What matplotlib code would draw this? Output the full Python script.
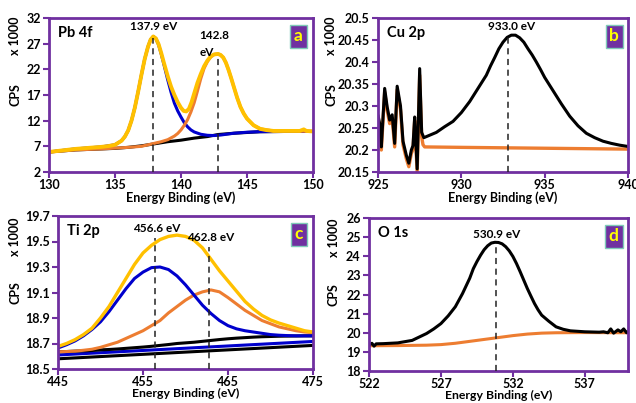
import matplotlib
matplotlib.use("Agg")
import matplotlib.pyplot as plt

plt.rcParams["font.family"] = ["Lato", "DejaVu Sans"]
plt.rcParams["font.weight"] = "bold"

PURPLE = "#7030A0"
GOLD = "#FFC000"
ORANGE = "#ED7D31"
BLUE = "#0000CC"

# ---- panel a: Pb 4f ----
pb_env_x = [130, 131, 132, 133, 134, 134.5, 135, 135.5, 135.75, 136, 136.25, 136.5, 136.75, 137,
            137.25, 137.5, 137.7, 137.9, 138.1, 138.3, 138.5, 138.7, 139, 139.25, 139.5, 139.75,
            140, 140.2, 140.4, 140.6, 140.8, 141, 141.25, 141.5, 141.75, 142, 142.25, 142.5, 142.8,
            143, 143.2, 143.4, 143.6, 143.8, 144, 144.25, 144.5, 144.75, 145, 145.5, 146, 146.5,
            147, 148, 149, 149.3, 149.5, 150]
pb_env_y = [5.9, 6.2, 6.5, 6.7, 6.9, 7.05, 7.3, 8.1, 8.9, 10.1, 12.0, 14.5, 17.6, 20.9,
            24.0, 26.4, 27.8, 28.4, 28.0, 26.9, 25.2, 23.3, 20.6, 18.6, 17.0, 15.6,
            14.5, 13.9, 13.8, 14.3, 15.6, 17.3, 19.4, 21.1, 22.6, 23.7, 24.5, 24.9, 25.0,
            24.8, 24.3, 23.3, 21.9, 20.3, 18.6, 16.5, 14.7, 13.4, 12.4, 11.1, 10.4, 10.15,
            10.0, 10.0, 10.0, 10.3, 10.0, 9.9]
pb_blue_x = [130, 132, 134, 135, 135.5, 135.75, 136, 136.25, 136.5, 136.75, 137, 137.25, 137.5,
             137.7, 137.9, 138.1, 138.3, 138.5, 138.7, 139, 139.25, 139.5, 139.75, 140, 140.25,
             140.5, 140.75, 141, 141.5, 142, 142.5, 143, 144, 145, 146, 148, 150]
pb_blue_y = [5.9, 6.5, 6.9, 7.3, 8.1, 8.9, 10.1, 12.0, 14.5, 17.6, 20.9, 24.0, 26.4,
             27.8, 28.4, 28.0, 26.8, 25.0, 23.0, 19.9, 17.5, 15.4, 13.9, 12.7, 11.6,
             10.8, 10.2, 9.8, 9.35, 9.15, 9.1, 9.2, 9.55, 9.75, 9.85, 9.9, 9.9]
pb_orange_x = [130, 132, 134, 136, 137, 137.5, 138, 138.5, 139, 139.5, 139.75, 140, 140.25, 140.5,
               140.75, 141, 141.25, 141.5, 141.75, 142, 142.25, 142.5, 142.8, 143, 143.2, 143.4,
               143.6, 143.8, 144, 144.25, 144.5, 144.75, 145, 145.5, 146, 147, 148, 150]
pb_orange_y = [5.9, 6.3, 6.5, 6.8, 7.0, 7.3, 7.6, 7.9, 8.3, 9.0, 9.5, 10.2, 11.1, 12.2,
               13.7, 15.5, 17.8, 20.2, 22.2, 23.5, 24.4, 24.9, 25.0, 24.8, 24.3, 23.3,
               21.9, 20.3, 18.6, 16.5, 14.7, 13.4, 12.4, 11.1, 10.4, 10.0, 10.0, 9.9]
pb_bg_x = [130, 131, 132, 134, 135, 136, 137, 137.9, 139, 140, 141, 142, 142.8, 144, 145, 146, 148, 150]
pb_bg_y = [5.9, 6.1, 6.3, 6.5, 6.6, 6.8, 7.1, 7.45, 7.9, 8.2, 8.6, 8.9, 9.3, 9.55, 9.7, 9.85, 9.9, 9.9]

# ---- panel b: Cu 2p ----
cu_x = [925.0, 925.1, 925.2, 925.4, 925.55, 925.7, 925.85, 926.0, 926.15, 926.35, 926.5, 926.7,
        926.85, 927.0, 927.1, 927.2, 927.35, 927.5, 927.62, 927.75, 928, 928.5, 929, 929.5, 930,
        930.5, 931, 931.5, 931.75, 932, 932.25, 932.5, 932.75, 933, 933.25, 933.5, 933.75, 934,
        934.25, 934.5, 934.75, 935, 935.5, 936, 936.5, 937, 937.5, 938, 938.5, 939, 939.5, 940]
cu_y = [20.279, 20.26, 20.207, 20.34, 20.298, 20.268, 20.28, 20.215, 20.345, 20.30, 20.22, 20.188,
        20.17, 20.20, 20.21, 20.275, 20.157, 20.385, 20.24, 20.228, 20.232, 20.24, 20.253, 20.265,
        20.285, 20.31, 20.34, 20.37, 20.391, 20.41, 20.43, 20.445, 20.456, 20.461, 20.461, 20.455,
        20.445, 20.43, 20.416, 20.40, 20.383, 20.365, 20.335, 20.305, 20.277, 20.255, 20.238,
        20.228, 20.22, 20.215, 20.211, 20.208]
cu_bg_x = [925.0, 925.1, 925.2, 925.4, 925.55, 925.7, 925.85, 926.0, 926.15, 926.35, 926.5, 926.7,
           926.85, 927.0, 927.1, 927.2, 927.35, 927.5, 927.62, 927.7, 927.8, 930, 935, 940]
cu_bg_y = [20.272, 20.252, 20.200, 20.332, 20.29, 20.26, 20.272, 20.207, 20.337, 20.292, 20.212,
           20.18, 20.162, 20.192, 20.202, 20.267, 20.15, 20.37, 20.23, 20.212, 20.207, 20.206,
           20.204, 20.202]

# ---- panel c: Ti 2p ----
ti_x = [445, 446, 447, 448, 449, 450, 451, 452, 453, 454, 455, 456, 457, 458, 459, 460,
        461, 462, 463, 464, 465, 466, 467, 468, 469, 470, 471, 472, 473, 474, 475]
ti_env_y = [18.677, 18.70, 18.73, 18.77, 18.82, 18.90, 18.99, 19.10, 19.21, 19.32, 19.41, 19.47,
            19.515, 19.54, 19.55, 19.54, 19.51, 19.45, 19.36, 19.27, 19.19, 19.11, 19.03, 18.97,
            18.92, 18.885, 18.86, 18.84, 18.82, 18.80, 18.79]
ti_blue_y = [18.665, 18.69, 18.72, 18.76, 18.81, 18.87, 18.95, 19.04, 19.13, 19.21, 19.26, 19.295,
             19.30, 19.28, 19.23, 19.16, 19.08, 19.00, 18.935, 18.88, 18.84, 18.815, 18.80, 18.79,
             18.78, 18.77, 18.765, 18.762, 18.76, 18.76, 18.76]
ti_orange_y = [18.635, 18.637, 18.64, 18.647, 18.655, 18.67, 18.69, 18.71, 18.74, 18.77, 18.80,
               18.84, 18.88, 18.94, 18.99, 19.04, 19.08, 19.105, 19.12, 19.105, 19.06, 19.01,
               18.96, 18.92, 18.88, 18.855, 18.83, 18.815, 18.80, 18.79, 18.785]
ti_bg_y = [18.635, 18.637, 18.64, 18.642, 18.645, 18.65, 18.653, 18.657, 18.662, 18.667, 18.672,
           18.678, 18.685, 18.692, 18.70, 18.705, 18.71, 18.717, 18.724, 18.731, 18.737, 18.742,
           18.746, 18.75, 18.753, 18.755, 18.757, 18.758, 18.759, 18.76, 18.76]
ti_line_x = [445, 475]
ti_line_blue = [18.61, 18.716]
ti_line_black = [18.58, 18.685]

# ---- panel d: O 1s ----
o_x = [522, 522.2, 522.35, 522.5, 523, 524, 525, 526, 526.5, 527, 527.5, 528, 528.5, 529, 529.25,
       529.5, 529.75, 530, 530.25, 530.5, 530.75, 531, 531.25, 531.5, 531.75, 532, 532.25, 532.5,
       532.75, 533, 533.25, 533.5, 533.75, 534, 534.5, 535, 535.5, 536, 537, 538, 538.3, 538.6,
       538.8, 539.0, 539.3, 539.5, 539.7, 539.9, 540]
o_y = [19.35, 19.45, 19.3, 19.42, 19.43, 19.47, 19.6, 19.96, 20.2, 20.48, 20.88, 21.36, 22.05,
       22.85, 23.35, 23.72, 24.05, 24.34, 24.55, 24.69, 24.73, 24.72, 24.65, 24.5, 24.28, 23.99,
       23.62, 23.2, 22.76, 22.32, 21.92, 21.53, 21.2, 20.92, 20.6, 20.31, 20.18, 20.1, 20.05,
       20.03, 20.05, 20.0, 20.2, 19.98, 20.15, 20.05, 20.2, 20.0, 20.05]
o_bg_x = [522, 524, 526, 527, 528, 529, 530, 531, 532, 533, 534, 535, 537, 540]
o_bg_y = [19.32, 19.33, 19.35, 19.38, 19.45, 19.55, 19.65, 19.75, 19.85, 19.93, 19.98, 20.0, 20.01, 20.0]

W, H = 636, 403
fig = plt.figure(figsize=(W / 100, H / 100), dpi=100)
FS = 9


def make_axes(l, t, r, b, fs_x=FS):
    ax = fig.add_axes([l / W, 1 - b / H, (r - l) / W, (b - t) / H])
    for s in ax.spines.values():
        s.set_color(PURPLE)
        s.set_linewidth(2)
    ax.tick_params(direction="out", color=PURPLE, width=1.5, length=4, labelsize=FS, pad=2)
    ax.tick_params(axis="x", pad=1)
    ax.set_xlabel("Energy Binding (eV)", fontsize=fs_x, fontweight="bold", labelpad=0)
    return ax


def line(ax, x, y, color, lw=2.2):
    ax.plot(x, y, color=color, lw=lw, solid_joinstyle="round", solid_capstyle="round")


def decorate(ax, name, badge, xt, yt, ylabs):
    ax.set_xticks(xt)
    ax.set_xticklabels([str(v) for v in xt], fontweight="bold")
    ax.set_yticks(yt)
    ax.set_yticklabels(ylabs, fontweight="bold")
    ax.set_xlim(xt[0], xt[-1])
    ax.set_ylim(yt[0], yt[-1])
    ax.text(0.035, 0.9, name, transform=ax.transAxes, fontsize=10.5, fontweight="bold", va="center")
    ax.text(0.945, 0.88, badge, transform=ax.transAxes, fontsize=12.5, fontweight="bold",
            color="#FFFF00", ha="center", va="center",
            bbox=dict(boxstyle="square,pad=0.22", fc=PURPLE, ec="#7FCBB8", lw=1))


def side_labels(x, y_top, y_cps):
    fig.text(x / W, 1 - y_top / H, "x 1000", rotation=90, fontsize=FS, fontweight="bold",
             ha="center", va="center")
    fig.text(x / W, 1 - y_cps / H, "CPS", rotation=90, fontsize=FS, fontweight="bold",
             ha="center", va="center")


def vdash(ax, x, y0, y1):
    ax.plot([x, x], [y0, y1], color="#222222", lw=1.1, ls=(0, (4, 3)), zorder=5)


# panel a
ax = make_axes(49, 18, 313, 172)
line(ax, pb_bg_x, pb_bg_y, "black")
line(ax, pb_blue_x, pb_blue_y, BLUE)
line(ax, pb_orange_x, pb_orange_y, ORANGE)
line(ax, pb_env_x, pb_env_y, GOLD, 2.8)
vdash(ax, 137.9, 2, 28.2)
vdash(ax, 142.8, 2, 24.8)
ax.text(137.9, 30.3, "137.9 eV", ha="center", va="center", fontsize=8.5, fontweight="bold")
ax.text(141.4, 27.0, "142.8\neV", ha="left", va="center", fontsize=8.5, fontweight="bold",
        linespacing=1.7)
decorate(ax, "Pb 4f", "a", [130, 135, 140, 145, 150], [2, 7, 12, 17, 22, 27, 32],
         ["2", "7", "12", "17", "22", "27", "32"])
side_labels(15, 36, 95)

# panel b
ax = make_axes(378, 18, 628, 172)
line(ax, cu_bg_x, cu_bg_y, ORANGE, 2.4)
line(ax, cu_x, cu_y, "black")
vdash(ax, 932.8, 20.15, 20.462)
ax.text(933.0, 20.48, "933.0 eV", ha="center", va="center", fontsize=8.5, fontweight="bold")
decorate(ax, "Cu 2p", "b", [925, 930, 935, 940],
         [20.15, 20.2, 20.25, 20.3, 20.35, 20.4, 20.45, 20.5],
         ["20.15", "20.2", "20.25", "20.3", "20.35", "20.4", "20.45", "20.5"])
side_labels(331, 36, 95)

# panel c
ax = make_axes(58, 216, 313, 369, fs_x=8.8)
line(ax, ti_line_x, ti_line_black, "black")
line(ax, ti_line_x, ti_line_blue, BLUE)
line(ax, ti_x, ti_bg_y, "black")
line(ax, ti_x, ti_orange_y, ORANGE)
line(ax, ti_x, ti_blue_y, BLUE)
line(ax, ti_x, ti_env_y, GOLD, 2.4)
vdash(ax, 456.4, 18.5, 19.53)
vdash(ax, 462.8, 18.5, 19.46)
ax.text(456.6, 19.6, "456.6 eV", ha="center", va="center", fontsize=8.5, fontweight="bold")
ax.text(463.0, 19.535, "462.8 eV", ha="center", va="center", fontsize=8.5, fontweight="bold")
decorate(ax, "Ti 2p", "c", [445, 455, 465, 475], [18.5, 18.7, 18.9, 19.1, 19.3, 19.5, 19.7],
         ["18.5", "18.7", "18.9", "19.1", "19.3", "19.5", "19.7"])
side_labels(15, 237, 293)

# panel d
ax = make_axes(369, 218, 628, 371, fs_x=8.8)
line(ax, o_bg_x, o_bg_y, ORANGE)
line(ax, o_x, o_y, "black")
vdash(ax, 530.8, 18, 24.7)
ax.text(530.9, 25.15, "530.9 eV", ha="center", va="center", fontsize=8.5, fontweight="bold")
decorate(ax, "O 1s", "d", [522, 527, 532, 537], [18, 19, 20, 21, 22, 23, 24, 25, 26],
         [str(v) for v in range(18, 27)])
ax.set_xlim(522, 540)
side_labels(334, 238, 295)

fig.savefig("out.png", dpi=100, facecolor="white")
